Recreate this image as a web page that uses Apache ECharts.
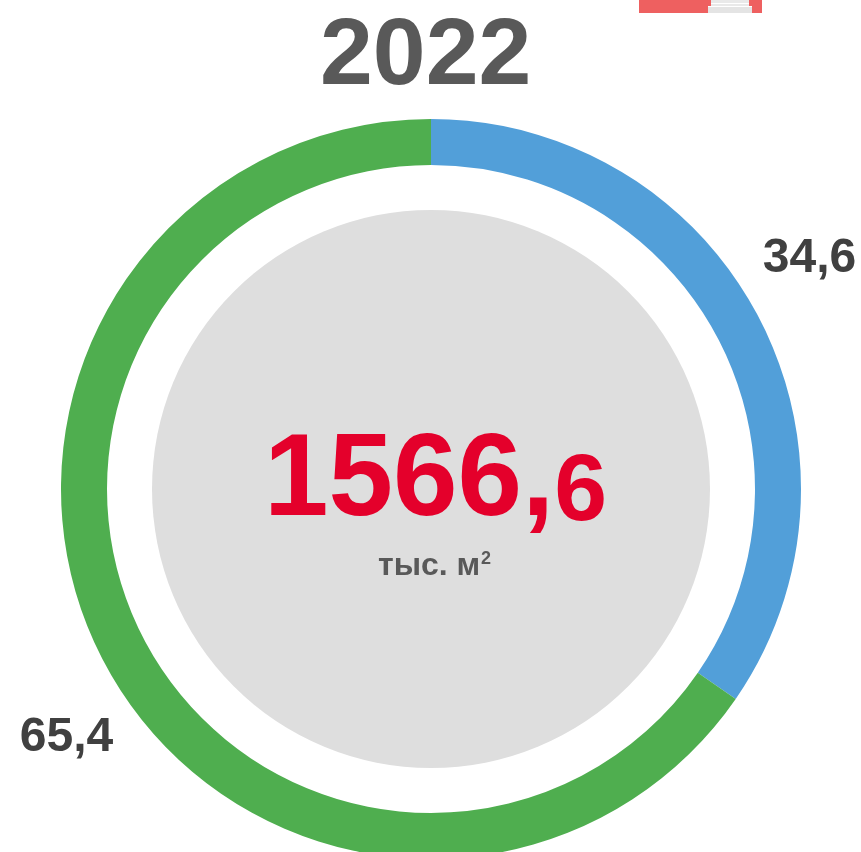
<!DOCTYPE html>
<html><head><meta charset="utf-8">
<style>html,body{margin:0;padding:0;background:#fff;overflow:hidden}#c{width:861px;height:852px}</style>
<script src="https://cdn.jsdelivr.net/npm/echarts@6/dist/echarts.min.js"></script>
</head><body><div id="c"></div>
<script>
const yearLabel = '2022';
const categories = ['A', 'B'];
const shares = [34.6, 65.4];
const shareLabels = ['34,6', '65,4'];
const totalWhole = '1566,';
const totalFraction = '6';
const unitText = 'тыс. м';
const unitSup = '2';
const colors = ['#529fd9', '#4fae4f'];
const labelShift = [[-44, -51], [58, 70]];
const F = '"Liberation Sans", Arial, sans-serif';
const chart = echarts.init(document.getElementById('c'), null, {renderer:'canvas'});
chart.setOption({
  animation:false,
  title:[
    {text:yearLabel,left:320,top:8,padding:0,textStyle:{fontFamily:F,fontWeight:'bold',fontSize:95,color:'#595959',lineHeight:100}},
    {text:'{a|'+totalWhole+'}{b|'+totalFraction+'}',left:264,top:421,padding:0,textStyle:{rich:{
      a:{fontFamily:F,fontWeight:'bold',fontSize:116,color:'#e4002b',verticalAlign:'bottom',lineHeight:120},
      b:{fontFamily:F,fontWeight:'bold',fontSize:95,color:'#e4002b',verticalAlign:'bottom',lineHeight:120}
    }}},
    {text:unitText,left:378,top:548,padding:0,textStyle:{fontFamily:F,fontWeight:'bold',fontSize:32,color:'#595959',lineHeight:36}},
    {text:unitSup,left:481,top:549,padding:0,textStyle:{fontFamily:F,fontWeight:'bold',fontSize:18,color:'#595959',lineHeight:20}}
  ],
  series:[
    {type:'pie',silent:true,z:1,center:[431,489],radius:[0,279],startAngle:90,clockwise:true,
     label:{show:false},labelLine:{show:false},itemStyle:{color:'#dedede'},
     data:[{name:'total',value:shares[0]+shares[1]}]},
    {type:'pie',silent:true,z:2,center:[431,489],radius:[324,370],startAngle:90,clockwise:true,
     color:colors,
     label:{show:true,position:'outside',overflow:'none',fontFamily:F,fontWeight:'bold',fontSize:48,color:'#404040',
            formatter:p=>shareLabels[p.dataIndex]},
     labelLine:{show:false},
     labelLayout:p=>({dx:labelShift[p.dataIndex][0],dy:labelShift[p.dataIndex][1]}),
     data:categories.map((c,i)=>({name:c,value:shares[i]}))}
  ],
  graphic:[
    {type:'rect',shape:{x:639,y:0,width:123,height:13},style:{fill:'#ee6060'},silent:true},
    {type:'rect',shape:{x:708,y:6,width:44,height:7},style:{fill:'#e4e4e4'},silent:true},
    {type:'rect',shape:{x:711,y:0,width:38,height:6},style:{fill:'#e9e9e9'},silent:true},
    {type:'rect',shape:{x:711,y:3,width:38,height:1},style:{fill:'#ffffff'},silent:true},
    {type:'rect',shape:{x:708,y:6,width:44,height:1},style:{fill:'#ffffff'},silent:true}
  ]
});
</script></body></html>
